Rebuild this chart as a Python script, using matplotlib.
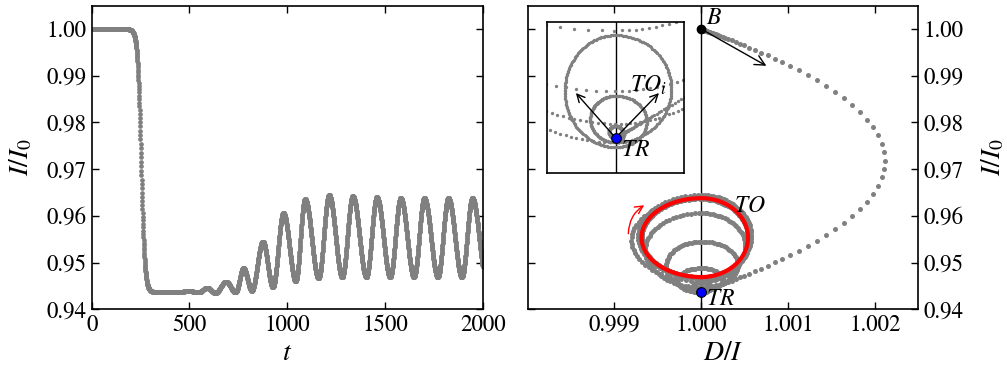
import numpy as np
import matplotlib.pyplot as plt
from matplotlib.patches import FancyArrowPatch
from matplotlib.ticker import FormatStrFormatter

plt.rcParams['font.family'] = ['STIXGeneral', 'DejaVu Serif']
plt.rcParams['mathtext.fontset'] = 'stix'

# upper level, rest level after the switch, and where/how fast it switches
i_start = 1.0
i_rest = 0.9437
t_switch = 252.0
w_switch = 9.3

# turning points of the oscillation that grows out of the rest state
turn_t = [300, 450, 494, 545, 591, 632, 687, 735, 776, 818, 875, 926, 980, 1043,
          1091, 1160, 1214, 1281, 1335, 1404, 1458, 1526, 1580, 1648, 1701, 1770,
          1824, 1893, 1947, 2016]
turn_i = [0.9437, 0.9437, 0.94395, 0.9436, 0.9446, 0.9435, 0.9459, 0.9436, 0.9488,
          0.9440, 0.9545, 0.9447, 0.9606, 0.9460, 0.9636, 0.9466, 0.9645, 0.9469,
          0.9642, 0.9469, 0.9640, 0.9469, 0.9638, 0.9469, 0.9638, 0.9469, 0.9638,
          0.9469, 0.9638, 0.9469]

# D/I departs from 1 in proportion to the rate of change of I
k_rate = 1.4

# points of the labelled states and arrow tips
b_point = (1.0, 1.0)
tr_point = (1.0, 0.9437)
b_arrow_tip = (1.00075, 0.99213)
red_arrow = [(0.99916, 0.9556), (0.99937, 0.9626)]
cycle_span = (1770, 1893)
inset_tips = [(0.999925, 0.94466), (1.000082, 0.94466)]

tt = np.array(turn_t, dtype=float)
ti = np.array(turn_i)


def intensity(t):
    s = 1.0 / (1.0 + np.exp(-(t - t_switch) / w_switch))
    base = i_start - (i_start - i_rest) * s
    k = np.clip(np.searchsorted(tt, t) - 1, 0, len(tt) - 2)
    u = np.clip((t - tt[k]) / (tt[k + 1] - tt[k]), 0, 1)
    osc = ti[k] + (ti[k + 1] - ti[k]) * (1 - np.cos(np.pi * u)) / 2
    return base + osc - i_rest


def portrait(step):
    t = np.arange(0, 2000.01, step)
    i = intensity(t)
    return t, i, 1.0 - k_rate * np.gradient(i, t)


t_left = np.arange(0, 2000.01, 0.64)
i_left = intensity(t_left)

t_ph, i_ph, d_ph = portrait(1.2)
t_in, i_in, d_in = portrait(0.5)

grey = '#808080'
fig = plt.figure(figsize=(10.07, 3.71), dpi=100)
ax1 = fig.add_axes([0.0911, 0.1663, 0.3883, 0.8183])
ax2 = fig.add_axes([0.524, 0.1663, 0.3879, 0.8183])

# left: time series
ax1.plot(t_left, i_left, 'o', ms=3.4, mec='none', color=grey)
ax1.set_xlim(0, 2000)
ax1.set_ylim(0.94, 1.005)
ax1.set_xticks([0, 500, 1000, 1500, 2000])
ax1.set_yticks([0.94, 0.95, 0.96, 0.97, 0.98, 0.99, 1.00])
ax1.yaxis.set_major_formatter(FormatStrFormatter('%.2f'))
ax1.set_xlabel('$t$', fontsize=20, labelpad=4)
ax1.set_ylabel('$I/I_0$', fontsize=20, labelpad=9)

# right: phase portrait
ax2.axvline(1.0, color='black', lw=1)
ax2.plot(d_ph, i_ph, 'o', ms=3.6, mec='none', color=grey)
cyc = (t_ph >= cycle_span[0]) & (t_ph <= cycle_span[1])
ax2.plot(d_ph[cyc], i_ph[cyc], color='red', lw=3)
ax2.annotate('', xy=b_arrow_tip, xytext=b_point,
             arrowprops=dict(arrowstyle='->', color='black', lw=1,
                             mutation_scale=18, shrinkA=0, shrinkB=0))
ax2.add_patch(FancyArrowPatch(red_arrow[0], red_arrow[1], arrowstyle='->',
                              connectionstyle='arc3,rad=-0.3', color='red',
                              lw=1, mutation_scale=14))
ax2.plot(*b_point, 'o', ms=6, color='black', zorder=5)
ax2.plot(*tr_point, 'o', ms=7, mfc='blue', mec='black', mew=0.8, zorder=5)
ax2.text(1.00005, 1.0023, '$B$', fontsize=17, ha='left', va='center')
ax2.text(1.00006, 0.9421, '$TR$', fontsize=17, ha='left', va='center')
ax2.text(1.00038, 0.9620, '$TO$', fontsize=17, ha='left', va='center')
ax2.set_xlim(0.998, 1.0025)
ax2.set_ylim(0.94, 1.005)
ax2.set_xticks([0.999, 1.000, 1.001, 1.002])
ax2.set_yticks([0.94, 0.95, 0.96, 0.97, 0.98, 0.99, 1.00])
ax2.xaxis.set_major_formatter(FormatStrFormatter('%.3f'))
ax2.yaxis.set_major_formatter(FormatStrFormatter('%.2f'))
ax2.yaxis.set_label_position('right')
ax2.set_xlabel('$D/I$', fontsize=20, labelpad=4)
ax2.set_ylabel('$I/I_0$', fontsize=20, labelpad=12)

for ax in (ax1, ax2):
    ax.tick_params(direction='in', length=5, width=1, labelsize=16.5,
                   top=True, right=True, left=True, bottom=True)
    for sp in ax.spines.values():
        sp.set_linewidth(1.2)
ax2.tick_params(labelleft=False, labelright=True)

# inset: close-up around TR
axi = fig.add_axes([0.543, 0.533, 0.1366, 0.4086])
axi.axvline(1.0, color='black', lw=1)
axi.plot(d_in, i_in, 'o', ms=2.4, mec='none', color=grey)
for tip in inset_tips:
    axi.annotate('', xy=tip, xytext=tr_point,
                 arrowprops=dict(arrowstyle='->', color='black', lw=1,
                                 mutation_scale=14, shrinkA=0, shrinkB=0))
axi.plot(*tr_point, 'o', ms=7, mfc='blue', mec='black', mew=0.8, zorder=5)
axi.text(1.000028, 0.94483, '$TO_i$', fontsize=17, ha='left', va='center')
axi.text(1.00001, 0.94344, '$TR$', fontsize=17, ha='left', va='center')
axi.set_xlim(1.0 - 1.3e-4, 1.0 + 1.3e-4)
axi.set_ylim(0.94294, 0.94619)
axi.set_xticks([])
axi.set_yticks([])
for sp in axi.spines.values():
    sp.set_linewidth(1.2)

fig.savefig('out.png', dpi=100)
